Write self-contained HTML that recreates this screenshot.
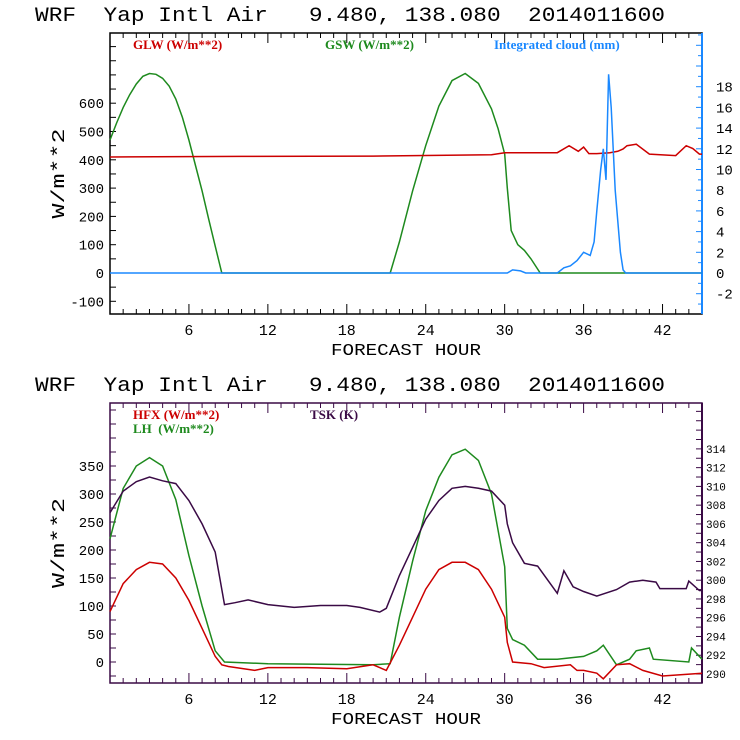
<!DOCTYPE html>
<html><head><meta charset="utf-8"><style>
html,body{margin:0;padding:0;background:#fff;}
svg{display:block;}
text{font-family:"Liberation Mono",monospace;white-space:pre;}
.lg{font-family:"Liberation Serif",serif;font-weight:bold;font-size:13px;}
</style></head><body>
<svg id="c" width="740" height="740" viewBox="0 0 740 740" xmlns="http://www.w3.org/2000/svg"></svg>
<script>
// ---- data (hours, values) ----
const gswH=[0,0.5,1,1.5,2,2.5,3,3.5,4,4.5,5,5.5,6,6.5,7,7.5,8,8.5,9,21.3,22,23,24,25,26,27,28,29,29.5,30,30.2,30.5,31,31.5,32,32.7,45];
const gswV=[470,530,585,630,668,695,705,702,688,660,615,550,470,380,290,190,95,0,0,0,110,290,450,590,680,705,670,580,510,420,300,150,100,80,50,0,0];
const glwH=[0,10,20,29,30,34,34.9,35.6,36.0,36.4,37,38,38.6,39,39.3,40,41,43,43.8,44.3,44.8,45];
const glwV=[410,412,413,418,425,425,450,430,445,422,422,425,430,438,450,455,420,415,450,440,420,420];
const cldH=[0,30.2,30.6,31.2,31.6,34,34.5,35,35.5,36,36.5,36.8,37,37.3,37.5,37.7,37.9,38.1,38.4,38.8,39,39.2,45];
const cldV=[0,0,0.3,0.2,0,0,0.5,0.7,1.2,2,1.7,3,6,10,12,9,19.2,16,8,2,0.3,0,0];
const hfxH=[0,1,2,3,4,5,6,7,8,8.5,9,11,12,15,18,20,21,22,23,24,25,26,27,28,29,30,30.2,30.6,32,33,35,35.5,36,37,37.5,38.5,39.5,40.5,42,45];
const hfxV=[90,140,165,178,175,150,110,60,10,-5,-8,-15,-10,-10,-12,-5,-15,30,80,130,165,178,178,165,130,80,35,0,-3,-10,-5,-15,-15,-20,-30,-5,-3,-15,-25,-20];
const lhH=[0,1,2,3,4,5,6,7,8,8.7,12,20,21.3,22,23,24,25,26,27,28,29,30,30.2,30.6,31.5,32.5,34,36,37,37.5,38.5,39.5,40,41,41.3,44,44.2,45];
const lhV=[220,310,350,365,350,290,190,100,20,0,-3,-5,-3,80,180,270,330,370,380,360,300,170,60,40,30,5,5,10,20,30,-5,5,20,25,5,0,25,5];
const tskH=[0,1,2,3,4,5,6,7,8,8.7,9.5,10.5,12,14,16,18,19,20.5,21,22,23,24,25,26,27,28,29,30,30.2,30.6,31.5,32.5,34,34.5,35.2,36,37,38.5,39.5,40.5,41.5,41.8,43.8,44,44.8,45];
const tskV=[307.2,309.5,310.5,311,310.6,310.3,308.5,306,303,297.4,297.6,297.9,297.4,297.1,297.3,297.3,297.1,296.6,297,300.5,303.5,306.5,308.5,309.8,310,309.8,309.5,308,306,304,301.8,301.5,298.6,301,299.3,298.8,298.3,299,299.8,300,299.8,299.1,299.1,299.9,298.9,298.9];
const xTicks=[6,12,18,24,30,36,42];
const topLeftTicks=[-100,0,100,200,300,400,500,600];
const topRightTicks=[-2,0,2,4,6,8,10,12,14,16,18];
const botLeftTicks=[0,50,100,150,200,250,300,350];
const botRightTicks=[290,292,294,296,298,300,302,304,306,308,310,312,314];

const S=document.getElementById('c');const NS='http://www.w3.org/2000/svg';
function mk(t,a,p){const e=document.createElementNS(NS,t);for(const k in a)e.setAttribute(k,a[k]);(p||S).appendChild(e);return e;}
const X0=110,X1=702;
const x=h=>X0+h*(X1-X0)/45;
// scales
const tY=v=>273-v*0.283;       // top left
const tR=v=>273-v*10.35;       // top right
const bY=v=>662-v*0.56;        // bottom left
const bR=v=>674-(v-290)*9.38;  // bottom right

function line(H,V,sc,col,name,g){
  let d='';for(let i=0;i<H.length;i++){d+=(i?'L':'M')+x(H[i]).toFixed(1)+' '+sc(V[i]).toFixed(1);}
  const p=mk('path',{d:d,fill:'none',stroke:col,'stroke-width':1.5},g);
  
  
}
function txt(s,a,name,g){const t=mk('text',a,g);t.textContent=s;return t;}

function panel(top,bot,boxCol,rightCol,prefix){
  const g=mk('g',{});
  txt('WRF  Yap Intl Air   9.480, 138.080  2014011600',{x:35,y:top-12,'font-size':20,textLength:630,lengthAdjust:'spacingAndGlyphs'},prefix+'-title',g);
  for(let h=1;h<45;h++){const L=h%6==0?10:5;const xx=x(h);
    mk('line',{x1:xx,y1:top,x2:xx,y2:top+L,stroke:boxCol},g);
    mk('line',{x1:xx,y1:bot,x2:xx,y2:bot-L,stroke:boxCol},g);}
  xTicks.forEach(h=>txt(String(h),{x:x(h),y:bot+21,'font-size':15,'text-anchor':'middle'},prefix+'-x-tick-label',g));
  txt('FORECAST HOUR',{x:406,y:bot+41,'font-size':17,'text-anchor':'middle',textLength:150,lengthAdjust:'spacingAndGlyphs'},prefix+'-x-axis-title',g);
  const r=mk('rect',{x:X0,y:top,width:X1-X0,height:bot-top,fill:'none',stroke:boxCol,'stroke-width':1.5},g);
  
  mk('line',{x1:X1,y1:top,x2:X1,y2:bot,stroke:rightCol,'stroke-width':2},g);
  txt('W/m**2',{x:0,y:0,'font-size':18,'text-anchor':'middle',transform:`translate(64,${(top+bot)/2}) rotate(-90)`,textLength:90,lengthAdjust:'spacingAndGlyphs'},prefix+'-y-axis-title',g);
  return g;
}
// ---- top panel ----
const g1=panel(33,314,'#000','#1a88ff','top');
for(let v=-150;v<=850;v+=50){const yy=tY(v);if(yy<=33||yy>=314)continue;mk('line',{x1:X0,y1:yy,x2:X0+6,y2:yy,stroke:'#000'},g1);}
topLeftTicks.forEach(v=>txt(String(v),{x:104,y:tY(v)+5,'font-size':14,'text-anchor':'end'},'top-y-tick-label',g1));
for(let v=-4;v<=26;v+=1){const yy=tR(v);if(yy<=33||yy>=314)continue;mk('line',{x1:X1,y1:yy,x2:X1-(v%2==0?6:4),y2:yy,stroke:'#1a88ff'},g1);}
topRightTicks.forEach(v=>txt(String(v),{x:716,y:tR(v)+5,'font-size':14},'top-right-tick-label',g1));
line(gswH,gswV,tY,'#1e8a1e','gsw-line',g1);
line(glwH,glwV,tY,'#cc0000','glw-line',g1);
line(cldH,cldV,tR,'#1a88ff','cloud-line',g1);
txt('GLW (W/m**2)',{x:133,y:49,fill:'#cc0000',class:'lg'},'glw-legend',g1);
txt('GSW (W/m**2)',{x:325,y:49,fill:'#1e8a1e',class:'lg'},'gsw-legend',g1);
txt('Integrated cloud (mm)',{x:494,y:49,fill:'#1a88ff',class:'lg'},'cloud-legend',g1);
// ---- bottom panel ----
const P='#3a0a45';
const g2=panel(403,683,P,P,'bottom');
for(let v=-25;v<=450;v+=25){const yy=bY(v);if(yy<=403||yy>=683)continue;mk('line',{x1:X0,y1:yy,x2:X0+6,y2:yy,stroke:P},g2);}
botLeftTicks.forEach(v=>txt(String(v),{x:104,y:bY(v)+5,'font-size':14,'text-anchor':'end'},'bottom-y-tick-label',g2));
for(let v=289;v<=320;v+=1){const yy=bR(v);if(yy<=403||yy>=683)continue;mk('line',{x1:X1,y1:yy,x2:X1-6,y2:yy,stroke:P},g2);}
botRightTicks.forEach(v=>txt(String(v),{x:706,y:bR(v)+4,'font-size':11},'bottom-right-tick-label',g2));
line(lhH,lhV,bY,'#1e8a1e','lh-line',g2);
line(hfxH,hfxV,bY,'#cc0000','hfx-line',g2);
line(tskH,tskV,bR,P,'tsk-line',g2);
txt('HFX (W/m**2)',{x:133,y:419,fill:'#cc0000',class:'lg'},'hfx-legend',g2);
txt('LH  (W/m**2)',{x:133,y:433,fill:'#1e8a1e',class:'lg'},'lh-legend',g2);
txt('TSK (K)',{x:310,y:419,fill:P,class:'lg'},'tsk-legend',g2);
</script>
</body></html>
